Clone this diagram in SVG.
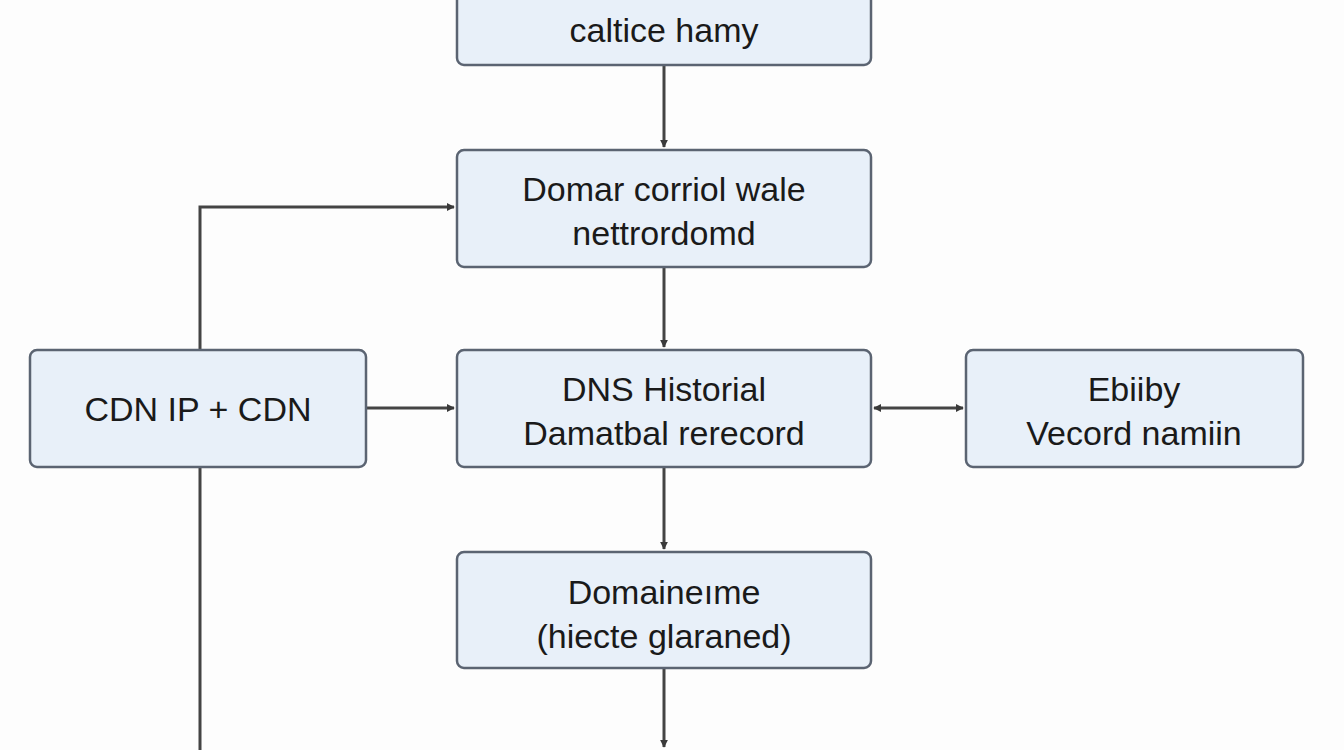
<svg xmlns="http://www.w3.org/2000/svg" width="1344" height="750" viewBox="0 0 1344 750">
<defs>
<marker id="a" viewBox="0 0 10 10" refX="9" refY="5" markerWidth="8" markerHeight="8" orient="auto-start-reverse" markerUnits="userSpaceOnUse"><path d="M0,0 L10,5 L0,10 z" fill="#3a3a3a"/></marker>
<style>
.b{fill:#e8f0f9;stroke:#5b6472;stroke-width:2.5}
.t{font-family:"Liberation Sans",Arial,sans-serif;font-size:34px;fill:#1a1a1a;text-anchor:middle}
.c{stroke:#444;stroke-width:3;fill:none}
</style>
</defs>
<rect width="1344" height="750" fill="#fdfdfd"/>
<g id="connectors">
<path class="c" d="M664,66 V147" marker-end="url(#a)"/>
<path class="c" d="M664,268 V347" marker-end="url(#a)"/>
<path class="c" d="M664,468 V549" marker-end="url(#a)"/>
<path class="c" d="M664,669 V747" marker-end="url(#a)"/>
<path class="c" d="M200,350 V207 H454" marker-end="url(#a)"/>
<path class="c" d="M200,467 V750"/>
<path class="c" d="M367,408 H454" marker-end="url(#a)"/>
<path class="c" d="M874,408 H963" marker-start="url(#a)" marker-end="url(#a)"/>
</g>
<g id="n1"><rect class="b" x="457" y="-12" width="414" height="77" rx="7"/><text class="t" x="664" y="42">caltice hamy</text></g>
<g id="n2"><rect class="b" x="457" y="150" width="414" height="117" rx="7"/><text class="t" x="664" y="201">Domar corriol wale</text><text class="t" x="664" y="245">nettrordomd</text></g>
<g id="n3"><rect class="b" x="457" y="350" width="414" height="117" rx="7"/><text class="t" x="664" y="401">DNS Historial</text><text class="t" x="664" y="445">Damatbal rerecord</text></g>
<g id="n4"><rect class="b" x="457" y="552" width="414" height="116" rx="7"/><text class="t" x="664" y="604">Domaineıme</text><text class="t" x="664" y="648">(hiecte glaraned)</text></g>
<g id="n5"><rect class="b" x="30" y="350" width="336" height="117" rx="7"/><text class="t" x="198" y="421">CDN IP + CDN</text></g>
<g id="n6"><rect class="b" x="966" y="350" width="337" height="117" rx="7"/><text class="t" x="1134" y="401">Ebiiby</text><text class="t" x="1134" y="445">Vecord namiin</text></g>
</svg>
